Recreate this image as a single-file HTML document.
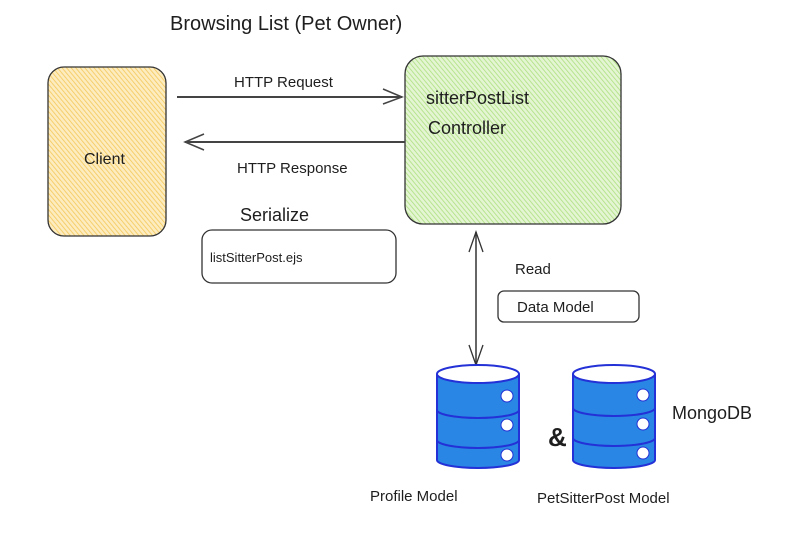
<!DOCTYPE html>
<html><head><meta charset="utf-8"><style>
html,body{margin:0;padding:0;background:#fff;}
svg{display:block;}
text{font-family:"Liberation Sans","DejaVu Sans",sans-serif;fill:#1e1e1e;}
</style></head><body>
<svg width="806" height="541" viewBox="0 0 806 541" xmlns="http://www.w3.org/2000/svg">
<defs>
<pattern id="ho" width="3.5" height="3.5" patternUnits="userSpaceOnUse" patternTransform="rotate(-40)">
<rect width="4" height="4" fill="#fcecbf"/><line x1="0" y1="0" x2="0" y2="4" stroke="#f5c85a" stroke-width="1.6"/></pattern>
<pattern id="hg" width="3.5" height="3.5" patternUnits="userSpaceOnUse" patternTransform="rotate(-40)">
<rect width="4" height="4" fill="#e4f5d3"/><line x1="0" y1="0" x2="0" y2="4" stroke="#ade07f" stroke-width="1.6"/></pattern>
</defs>

<text x="170" y="30" font-size="20">Browsing List (Pet Owner)</text>

<rect x="48" y="67" width="118" height="169" rx="16" fill="url(#ho)" stroke="#333" stroke-width="1.3"/>
<text x="84" y="164" font-size="16">Client</text>

<rect x="405" y="56" width="216" height="168" rx="18" fill="url(#hg)" stroke="#333" stroke-width="1.3"/>
<text x="426" y="104" font-size="18">sitterPostList</text>
<text x="428" y="134" font-size="18">Controller</text>

<line x1="177" y1="97" x2="402" y2="97" stroke="#444" stroke-width="2"/>
<polyline points="383,89 402,97 383,104" fill="none" stroke="#444" stroke-width="1.5"/>
<text x="234" y="87" font-size="15">HTTP Request</text>

<line x1="185" y1="142" x2="405" y2="142" stroke="#444" stroke-width="2"/>
<polyline points="204,134 185,142 204,150" fill="none" stroke="#444" stroke-width="1.5"/>
<text x="237" y="173" font-size="15">HTTP Response</text>

<text x="240" y="221" font-size="18">Serialize</text>
<rect x="202" y="230" width="194" height="53" rx="10" fill="none" stroke="#333" stroke-width="1.3"/>
<text x="210" y="262" font-size="13">listSitterPost.ejs</text>

<line x1="476" y1="232" x2="476" y2="365" stroke="#333" stroke-width="1.5"/>
<polyline points="469,252 476,232 483,252" fill="none" stroke="#333" stroke-width="1.3"/>
<polyline points="469,345 476,365 483,345" fill="none" stroke="#333" stroke-width="1.3"/>

<text x="515" y="274" font-size="15">Read</text>
<rect x="498" y="291" width="141" height="31" rx="6" fill="none" stroke="#333" stroke-width="1.3"/>
<text x="517" y="312" font-size="15">Data Model</text>

<g stroke="#2331d6" stroke-width="2">
<path d="M437,374 L437,460 A41,8 0 0 0 519,460 L519,374" fill="#2a86e4"/>
<ellipse cx="478" cy="374" rx="41" ry="9" fill="#fff"/>
<path d="M437,410 A41,8 0 0 0 519,410 M437,440 A41,8 0 0 0 519,440" fill="none"/>
<path d="M573,374 L573,460 A41,8 0 0 0 655,460 L655,374" fill="#2a86e4"/>
<ellipse cx="614" cy="374" rx="41" ry="9" fill="#fff"/>
<path d="M573,408 A41,8 0 0 0 655,408 M573,438 A41,8 0 0 0 655,438" fill="none"/>
</g>
<g fill="#fff" stroke="#2331d6" stroke-width="1">
<circle cx="507" cy="396" r="6"/><circle cx="507" cy="425" r="6"/><circle cx="507" cy="455" r="6"/>
<circle cx="643" cy="395" r="6"/><circle cx="643" cy="424" r="6"/><circle cx="643" cy="453" r="6"/>
</g>

<text x="548" y="446" font-size="26" font-weight="bold">&amp;</text>
<text x="672" y="419" font-size="18">MongoDB</text>
<text x="370" y="501" font-size="15">Profile Model</text>
<text x="537" y="503" font-size="15">PetSitterPost Model</text>
</svg>
</body></html>
